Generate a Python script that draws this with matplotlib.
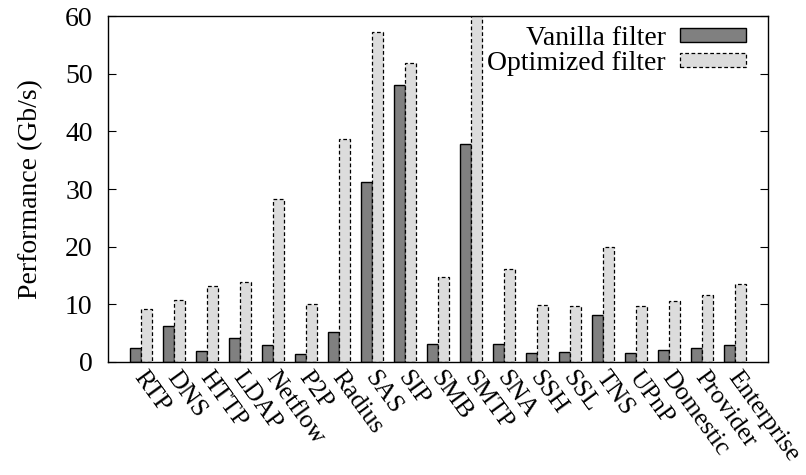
import matplotlib.pyplot as plt
import numpy as np

plt.rcParams['font.family'] = ['Liberation Serif', 'DejaVu Serif']

protocols = ['RTP', 'DNS', 'HTTP', 'LDAP', 'Netflow', 'P2P', 'Radius', 'SAS',
             'SIP', 'SMB', 'SMTP', 'SNA', 'SSH', 'SSL', 'TNS', 'UPnP',
             'Domestic', 'Provider', 'Enterprise']
vanilla = [2.5, 6.2, 1.9, 4.2, 3.0, 1.45, 5.15, 31.3, 48.1, 3.2,
           37.9, 3.1, 1.5, 1.7, 8.15, 1.55, 2.1, 2.35, 2.95]
optimized = [9.2, 10.8, 13.2, 13.8, 28.3, 10.1, 38.6, 57.3, 51.8, 14.7,
             62.0, 16.1, 9.9, 9.7, 20.0, 9.7, 10.5, 11.7, 13.5]

fig = plt.figure(figsize=(8.06, 4.75), dpi=100)
ax = fig.add_axes([0.134, 0.238, 0.819, 0.728])

x = np.arange(len(protocols))
w = 1.0 / 3
ax.bar(x - w / 2, vanilla, w, color='#808080', edgecolor='black',
       linewidth=1.0, label='Vanilla filter')
ax.bar(x + w / 2, optimized, w, color='#dcdcdc', edgecolor='black',
       linewidth=0.9, linestyle=(0, (3, 2)), label='Optimized filter')

fs = 20
ax.set_xlim(-1, 19)
ax.set_ylim(0, 60)
ax.set_yticks(np.arange(0, 61, 10))
ax.tick_params(axis='y', direction='in', length=6, right=True, labelsize=fs,
               pad=11)
ax.tick_params(axis='x', length=0)
ax.set_xticks(x)
ax.set_xticklabels([])
# rotated category names, hung from each group centre
for xi, name in zip(x, protocols):
    ax.annotate(name, xy=(xi, 0), xycoords=('data', 'axes fraction'),
                xytext=(4.5, -4.0), textcoords='offset points',
                rotation=-54, rotation_mode='anchor', ha='left', va='top',
                fontsize=18.5)

ax.set_ylabel('Performance (Gb/s)', fontsize=fs, labelpad=16)
for s in ax.spines.values():
    s.set_linewidth(1.0)

ax.legend(loc='upper right', bbox_to_anchor=(0.988, 1.012), frameon=False,
          markerfirst=False, fontsize=fs, handlelength=2.4, handleheight=0.45,
          labelspacing=0.0, borderaxespad=0.3, handletextpad=0.5,
          borderpad=0.2)

fig.savefig('out.png', dpi=100)
